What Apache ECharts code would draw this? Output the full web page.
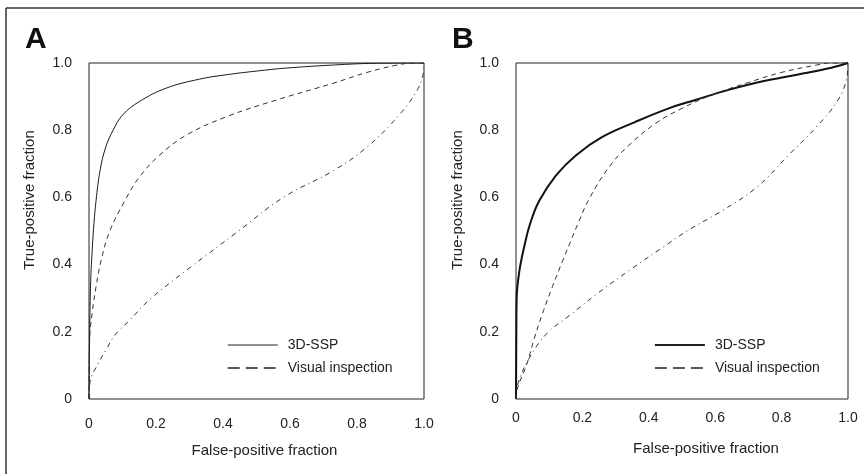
<!DOCTYPE html>
<html>
<head>
<meta charset="utf-8">
<script src="https://cdn.jsdelivr.net/npm/echarts@6/dist/echarts.min.js"></script>
<style>
html,body{margin:0;padding:0;background:#fff;}
#chart{width:864px;height:474px;}
</style>
</head>
<body>
<div id="chart"></div>
<script>
// ---- data (false-positive fraction, true-positive fraction) ----
const tickValues = [0, 0.2, 0.4, 0.6, 0.8, 1.0];
const legendNames = ['3D-SSP', 'Visual inspection'];
const panelLabels = ['A', 'B'];

const sspA = [[0,0],[0.002,0.2],[0.005,0.35],[0.01,0.45],[0.015,0.525],[0.021,0.59],[0.033,0.68],[0.05,0.75],[0.072,0.80],[0.1,0.845],[0.15,0.885],[0.23,0.925],[0.33,0.952],[0.41,0.965],[0.5,0.976],[0.59,0.985],[0.73,0.994],[0.85,0.999],[1,1]];
const visualA = [[0,0],[0.002,0.18],[0.01,0.26],[0.022,0.34],[0.038,0.42],[0.062,0.50],[0.107,0.59],[0.15,0.66],[0.21,0.725],[0.29,0.785],[0.41,0.84],[0.56,0.89],[0.73,0.94],[0.83,0.972],[0.92,0.994],[0.97,1],[1,1]];
const otherA = [[0,0],[0.003,0.05],[0.028,0.107],[0.053,0.15],[0.077,0.19],[0.122,0.235],[0.18,0.295],[0.30,0.39],[0.44,0.495],[0.58,0.60],[0.73,0.68],[0.83,0.75],[0.93,0.85],[0.98,0.92],[0.997,0.965],[1,1]];

const sspB = [[0,0],[0.001,0.2],[0.002,0.3],[0.01,0.38],[0.024,0.45],[0.042,0.52],[0.07,0.59],[0.12,0.665],[0.18,0.725],[0.26,0.78],[0.36,0.825],[0.46,0.865],[0.54,0.89],[0.64,0.92],[0.74,0.945],[0.85,0.966],[0.95,0.986],[1,1]];
const visualB = [[0,0],[0.003,0.027],[0.033,0.105],[0.055,0.18],[0.08,0.255],[0.11,0.335],[0.14,0.41],[0.165,0.47],[0.19,0.53],[0.22,0.595],[0.28,0.69],[0.34,0.755],[0.42,0.82],[0.5,0.865],[0.59,0.905],[0.70,0.942],[0.80,0.972],[0.90,0.993],[0.95,1],[1,1]];
const otherB = [[0,0],[0.006,0.047],[0.042,0.125],[0.093,0.195],[0.163,0.25],[0.24,0.31],[0.34,0.382],[0.44,0.45],[0.52,0.503],[0.62,0.56],[0.725,0.63],[0.825,0.73],[0.905,0.81],[0.97,0.89],[0.997,0.96],[1,1]];

// ---- chart ----
const FONT = "'Liberation Sans', Arial, sans-serif";
const INK = '#222';
const fmt = v => (v === 0 ? '0' : v.toFixed(1));

function xAxis(idx, padLeft, labelMargin, gap) {
  return {
    type: 'value', gridIndex: idx, min: 0, max: 1, interval: 0.2,
    axisLine: {show: false}, axisTick: {show: false}, splitLine: {show: false},
    axisLabel: {formatter: fmt, color: INK, fontFamily: FONT, fontSize: 14, margin: labelMargin},
    name: 'False-positive fraction', nameLocation: 'middle', nameGap: gap,
    nameTextStyle: {color: INK, fontFamily: FONT, fontSize: 15, padding: [0, 0, 0, padLeft]}
  };
}
function yAxis(idx, gap) {
  return {
    type: 'value', gridIndex: idx, min: 0, max: 1, interval: 0.2,
    axisLine: {show: false}, axisTick: {show: false}, splitLine: {show: false},
    axisLabel: {formatter: fmt, color: INK, fontFamily: FONT, fontSize: 14, margin: 17},
    name: 'True-positive fraction', nameLocation: 'middle', nameGap: gap,
    nameTextStyle: {color: INK, fontFamily: FONT, fontSize: 15, padding: [0, 0, 0, 62]}
  };
}
function line(name, data, idx, width, type, color) {
  return {
    name: name, type: 'line', xAxisIndex: idx, yAxisIndex: idx, data: data,
    symbol: 'none', smooth: 0.4, silent: true,
    lineStyle: {color: color, width: width, type: type}, itemStyle: {color: color}
  };
}
function legend(idx, left, sspWidth) {
  return {
    left: left, top: 338, orient: 'vertical', itemWidth: 50, itemHeight: 14, itemGap: 9,
    padding: 0, selectedMode: false,
    textStyle: {color: INK, fontFamily: FONT, fontSize: 14, padding: [0, 0, 0, 5]},
    data: [
      {name: legendNames[0], lineStyle: {color: INK, width: sspWidth, type: 'solid'}, itemStyle: {opacity: 0}},
      {name: legendNames[1], lineStyle: {color: INK, width: 1.5, type: [12, 6]}, itemStyle: {opacity: 0}}
    ]
  };
}

const chart = echarts.init(document.getElementById('chart'), null, {renderer: 'canvas'});
chart.setOption({
  backgroundColor: '#fff',
  animation: false,
  grid: [
    {left: 89, top: 63, width: 335, height: 336, show: true, borderColor: INK, borderWidth: 1},
    {left: 516, top: 63, width: 332, height: 336, show: true, borderColor: INK, borderWidth: 1}
  ],
  xAxis: [xAxis(0, 16, 18, 44), xAxis(1, 48, 12, 42)],
  yAxis: [yAxis(0, 52), yAxis(1, 51)],
  legend: [legend(0, 227, 1), legend(1, 654, 1.8)],
  series: [
    line(legendNames[0], sspA, 0, 1, 'solid', '#1a1a1a'),
    line(legendNames[1], visualA, 0, 1, [5, 4], '#333'),
    line('Other', otherA, 0, 1, [5, 4, 1, 4], '#333'),
    line(legendNames[0], sspB, 1, 2, 'solid', '#111'),
    line(legendNames[1], visualB, 1, 1, [5, 4], '#333'),
    line('Other', otherB, 1, 1, [5, 4, 1, 4], '#333')
  ],
  graphic: [
    {type: 'line', shape: {x1: 6, y1: 8, x2: 864, y2: 8}, style: {stroke: '#333', lineWidth: 1.5}, silent: true},
    {type: 'line', shape: {x1: 6, y1: 8, x2: 6, y2: 474}, style: {stroke: '#333', lineWidth: 1.5}, silent: true},
    {type: 'text', left: 25, top: 25, style: {text: panelLabels[0], font: "bold 30px " + FONT, fill: '#111'}},
    {type: 'text', left: 452, top: 25, style: {text: panelLabels[1], font: "bold 30px " + FONT, fill: '#111'}}
  ]
});
</script>
</body>
</html>
